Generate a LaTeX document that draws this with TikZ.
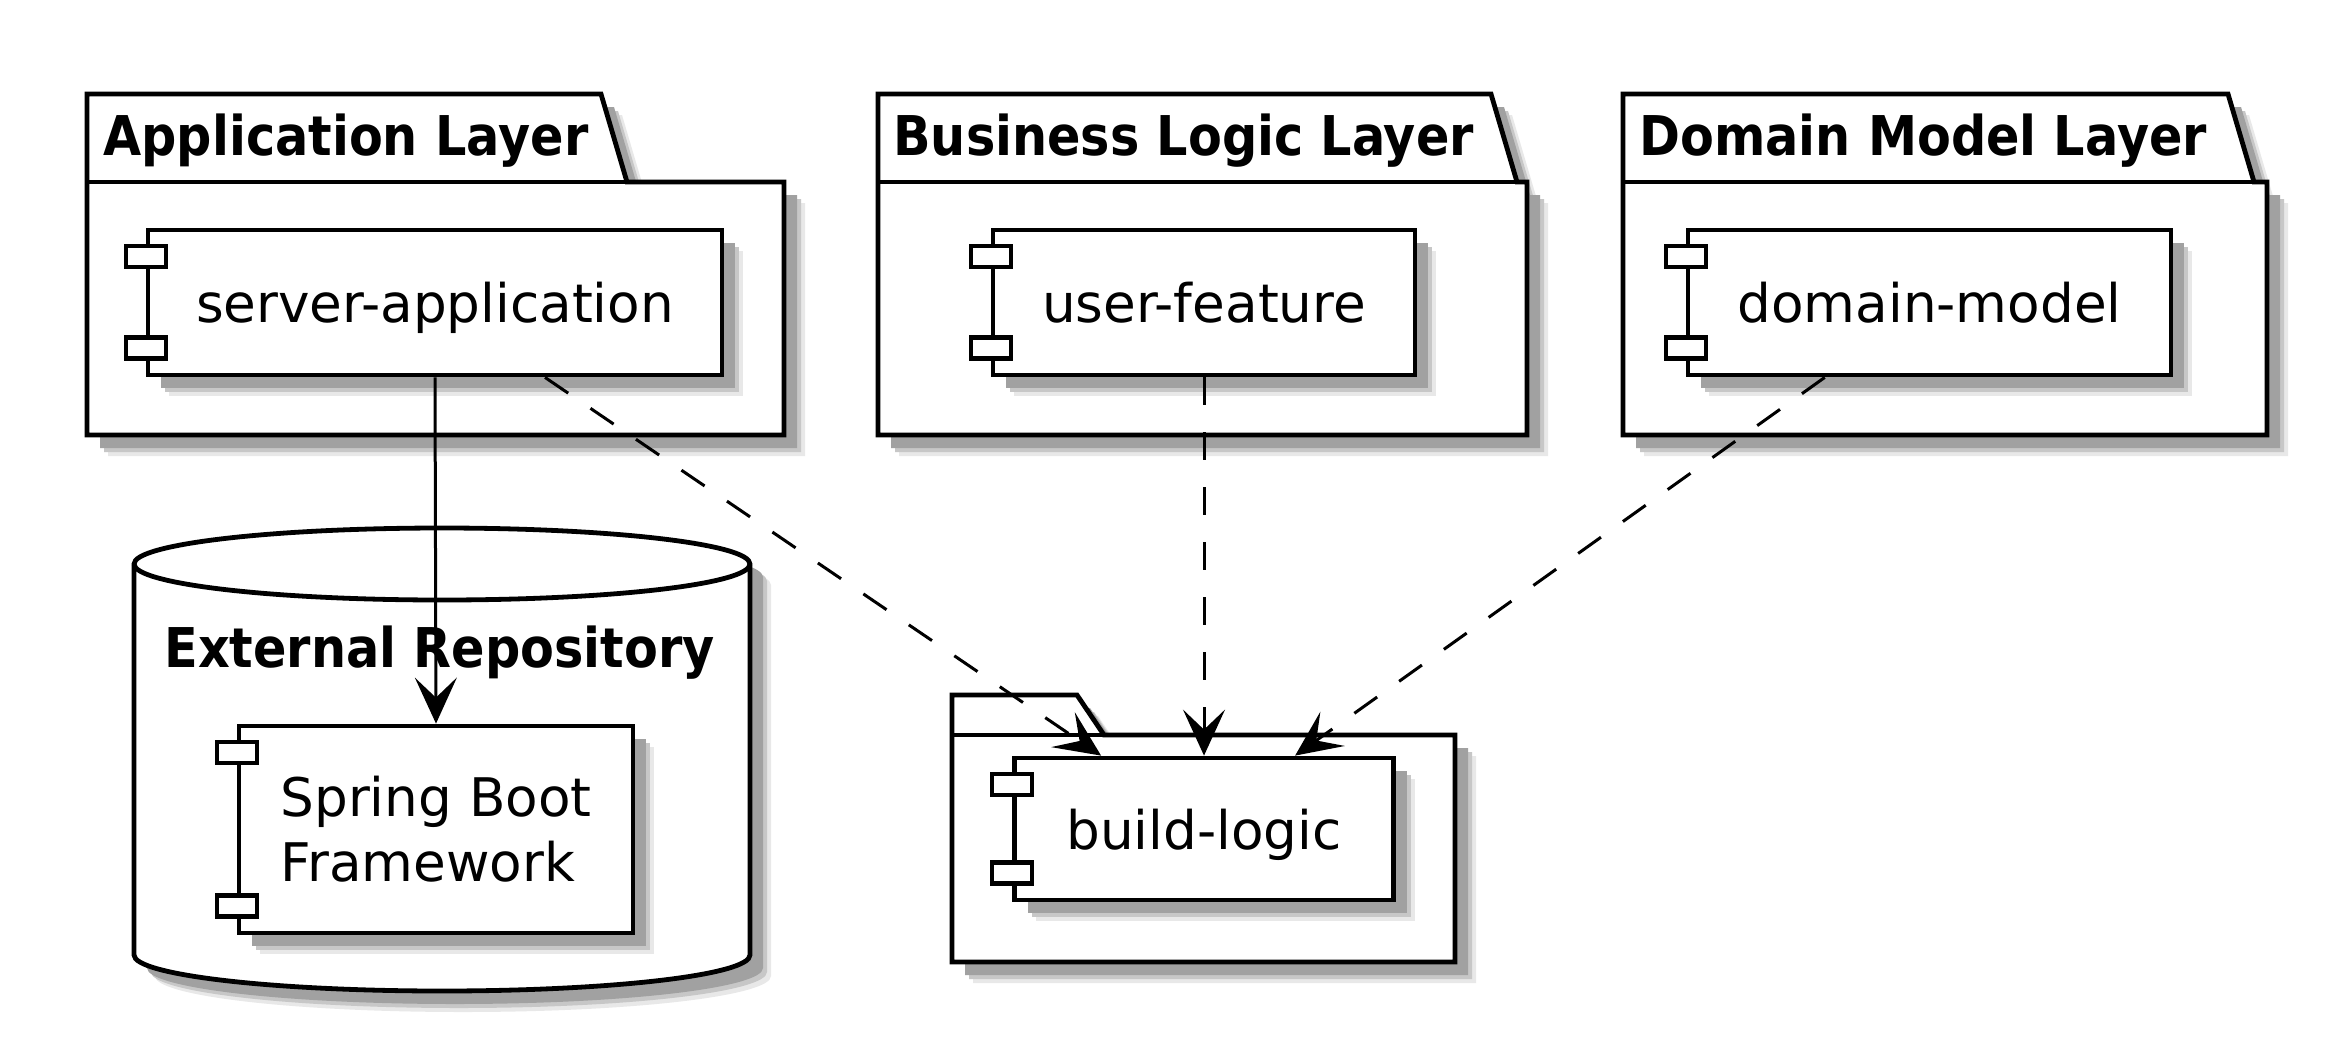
\documentclass[tikz,border=0pt]{standalone}
\usepackage{fontspec}
\setmainfont{DejaVu Sans}
\newfontfamily\pkgfam[FakeStretch=0.9]{DejaVu Sans}
\usetikzlibrary{shadows,calc,arrows.meta}
\newcommand\cmpfont{\fontsize{26.6pt}{32.5pt}\selectfont}
\newcommand\pkgfont{\pkgfam\bfseries\fontsize{27.4pt}{32pt}\selectfont}
\tikzset{
  shd/.style={drop shadow={shadow xshift=10.5pt,shadow yshift=-10.5pt,fill=black!9,opacity=1},
              drop shadow={shadow xshift=8.5pt,shadow yshift=-8.5pt,fill=black!22,opacity=1},
              drop shadow={shadow xshift=6.5pt,shadow yshift=-6.5pt,fill=black!37,opacity=1}},
  border/.style={draw=black,line width=2.4pt,fill=white},
  comp/.style={border,shd,rectangle,inner sep=0pt,font=\cmpfont},
  oneline/.style={text height=20pt,text depth=0pt},
  port/.style={draw=black,line width=2.1pt,fill=white},
  pkgtitle/.style={font=\pkgfont,inner sep=0pt,anchor=base west},
  tipstyle/.style={-{Stealth[length=23pt,width=21pt,inset=10pt]}},
  dep/.style={line width=1.5pt,dash pattern=on 14pt off 13.5pt,tipstyle},
  uses/.style={line width=1.5pt,tipstyle}
}
\begin{document}
\begin{tikzpicture}[x=0.5pt,y=-0.5pt]
\useasboundingbox (0,0) rectangle (2349,1039);
\fill[white] (0,0) rectangle (2349,1039);

% packages
\draw[border,shd] (87,182) -- (87,94) -- (601,94) -- (627,182) -- (784,182) -- (784,435) -- (87,435) -- cycle;
\draw[line width=2.4pt] (87,182) -- (784,182);
\node[pkgtitle] (tapp) at (103,155) {Application Layer};

\draw[border,shd] (878,182) -- (878,94) -- (1491,94) -- (1517,182) -- (1527,182) -- (1527,435) -- (878,435) -- cycle;
\draw[line width=2.4pt] (878,182) -- (1527,182);
\node[pkgtitle] (tbiz) at (893,155) {Business Logic Layer};

\draw[border,shd] (1623,182) -- (1623,94) -- (2228,94) -- (2254,182) -- (2267,182) -- (2267,435) -- (1623,435) -- cycle;
\draw[line width=2.4pt] (1623,182) -- (2267,182);
\node[pkgtitle] (tdom) at (1639,155) {Domain Model Layer};

\draw[border,shd] (952,735) -- (952,695) -- (1077,695) -- (1104,735) -- (1455,735) -- (1455,962) -- (952,962) -- cycle;
\draw[line width=2.4pt] (952,735) -- (1455,735);

% database
\draw[border,shd] (134,564) -- (134,955) arc[start angle=180,end angle=0,x radius=308,y radius=36]
  -- (750,564) arc[start angle=0,end angle=-180,x radius=308,y radius=36] -- cycle;
\draw[line width=2.4pt] (134,564) arc[start angle=180,end angle=0,x radius=308,y radius=36];
\node[pkgtitle] (repo) at (164,667) {External Repository};

% components
\node[comp,oneline,minimum width=287pt,minimum height=72.5pt] (sa) at (435,302.5) {server-application};
\node[comp,oneline,minimum width=211pt,minimum height=72.5pt] (uf) at (1204,302.5) {user-feature};
\node[comp,oneline,minimum width=241.5pt,minimum height=72.5pt] (dm) at (1929.5,302.5) {domain-model};
\node[comp,align=left,minimum width=197pt,minimum height=103.5pt] (sb) at (436,829.5) {Spring Boot\\Framework};
\node[comp,oneline,minimum width=189.5pt,minimum height=71pt] (bl) at (1204,829) {build-logic};

\foreach \c in {sa,uf,dm,sb,bl}{
  \draw[port] ($(\c.north west)+(-20,18)$) rectangle ++(40,21);
  \draw[port] ($(\c.south west)+(-20,-19)$) rectangle ++(40,-21);
}

% connectors
\coordinate (ba) at ($(bl.north west)+(89,0)$);
\coordinate (bc) at ($(bl.north west)+(283,0)$);
\draw[uses] (sa.south) -- (sb.north);
\draw[dep] (sa) -- (ba);
\draw[dep] (uf.south) -- (bl.north);
\draw[dep] (dm) -- (bc);
\end{tikzpicture}
\end{document}
